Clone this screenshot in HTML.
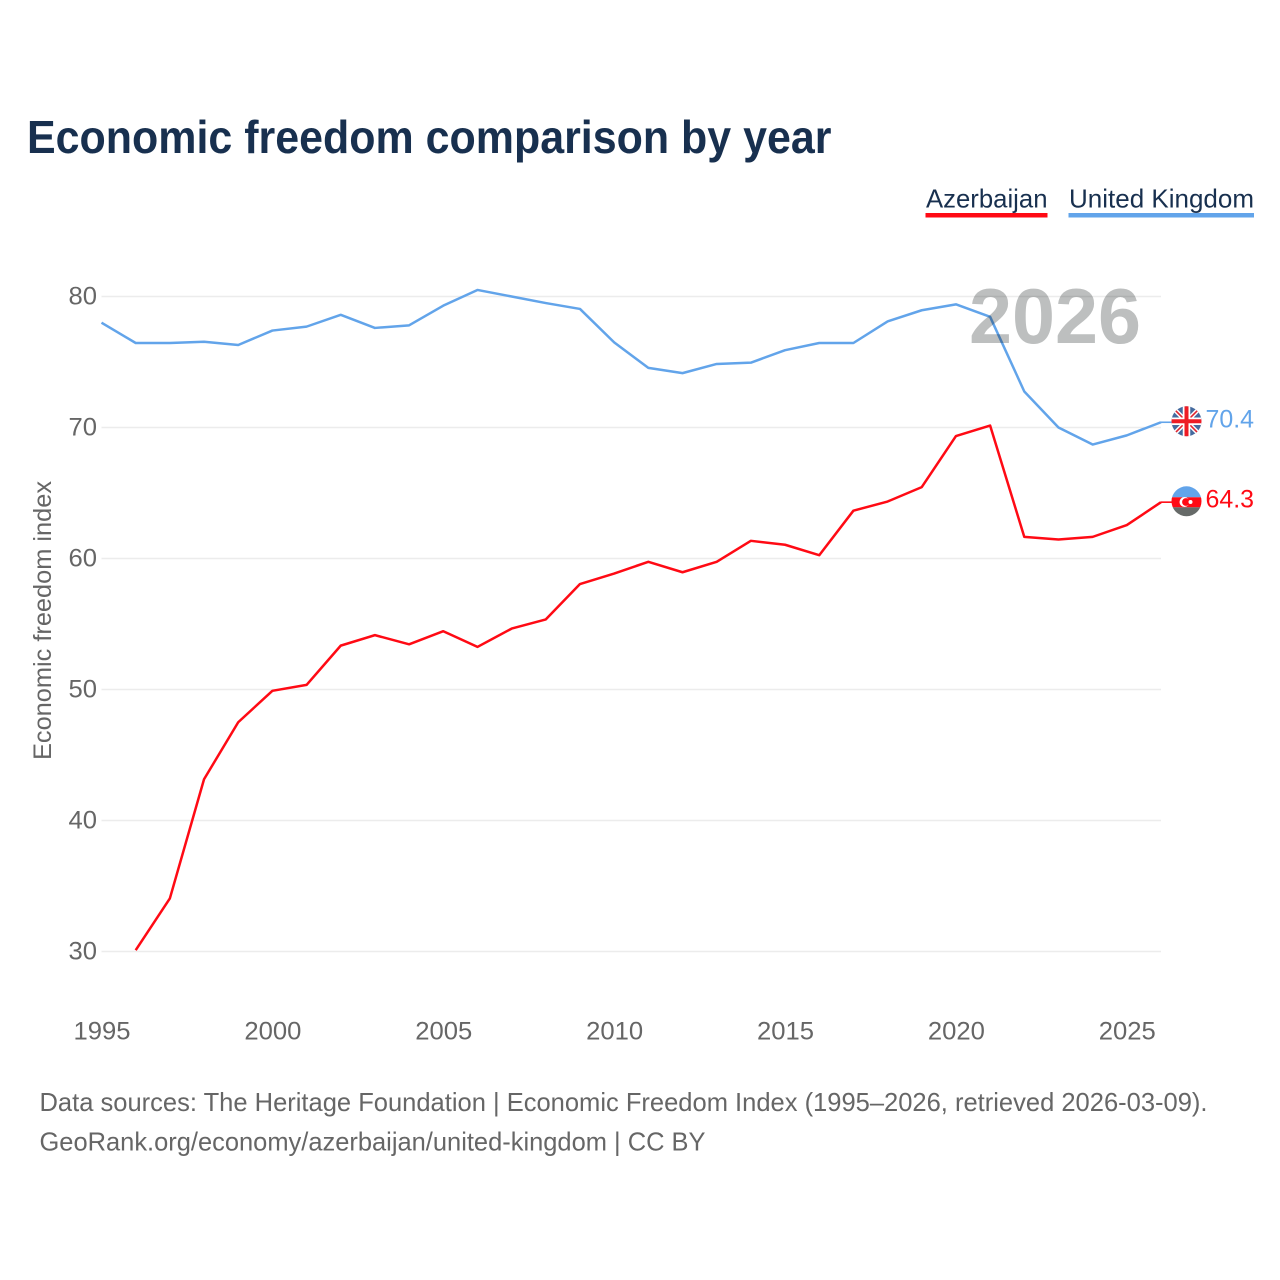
<!DOCTYPE html>
<html lang="en">
<head>
<meta charset="utf-8">
<title>Economic freedom comparison by year</title>
<style>
html,body{margin:0;padding:0;background:#fff;width:1280px;height:1280px;overflow:hidden}
svg{display:block;font-family:"Liberation Sans",sans-serif}
</style>
</head>
<body>
<svg id="chart" width="1280" height="1280" viewBox="0 0 1280 1280" xmlns="http://www.w3.org/2000/svg">
  <defs>
    <clipPath id="uk-clip"><circle cx="1186.5" cy="421.3" r="15"/></clipPath>
    <clipPath id="az-clip"><circle cx="1186.5" cy="501.3" r="15"/></clipPath>
  </defs>
  <rect width="1280" height="1280" fill="#fff"/>
  <text x="27" y="153" font-size="46" font-weight="700" fill="#18304f" textLength="804.5" lengthAdjust="spacingAndGlyphs">Economic freedom comparison by year</text>

  <g>
    <g>
      <text x="926" y="207.5" font-size="26" fill="#18304f" textLength="121.5" lengthAdjust="spacingAndGlyphs">Azerbaijan</text>
      <rect x="925.5" y="213" width="122" height="4.5" fill="#ff0a14"/>
    </g>
    <g>
      <text x="1069" y="207.5" font-size="26" fill="#18304f" textLength="185" lengthAdjust="spacingAndGlyphs">United Kingdom</text>
      <rect x="1068.5" y="213" width="185.5" height="4.5" fill="#62a4ea"/>
    </g>
  </g>

  <g id="grid"></g>
  <g id="yticks"></g>
  <g id="xticks"></g>
  <text transform="translate(51,620.5) rotate(-90)" text-anchor="middle" font-size="25" fill="#666" textLength="279" lengthAdjust="spacingAndGlyphs">Economic freedom index</text>

  <g id="series"></g>

  <text x="969" y="343" font-size="78" font-weight="700" fill="#bdbfbf" textLength="172" lengthAdjust="spacingAndGlyphs" style="mix-blend-mode:multiply">2026</text>

  <g clip-path="url(#uk-clip)">
    <rect x="1171" y="406" width="31" height="31" fill="#456a9e"/>
    <path d="M1171 406L1202 437M1202 406L1171 437" stroke="#fff" stroke-width="4.5"/>
    <path d="M1171 406L1202 437M1202 406L1171 437" stroke="#e0242f" stroke-width="1.6"/>
    <path d="M1186.5 406V437M1171 421.3H1202" stroke="#fff" stroke-width="7.5"/>
    <path d="M1186.5 406V437M1171 421.3H1202" stroke="#ee1c25" stroke-width="4"/>
  </g>
  <g clip-path="url(#az-clip)">
    <rect x="1171" y="486" width="31" height="11.3" fill="#62a4ea"/>
    <rect x="1171" y="497.3" width="31" height="10" fill="#ff0a14"/>
    <rect x="1171" y="507.3" width="31" height="10" fill="#666a68"/>
    <circle cx="1184.5" cy="502" r="5" fill="#fff"/>
    <circle cx="1186" cy="502" r="3.9" fill="#ff0a14"/>
    <circle cx="1190.5" cy="502" r="2" fill="#fff"/>
  </g>
  <text x="1205.5" y="427.5" font-size="25" fill="#62a4ea" textLength="48.5" lengthAdjust="spacingAndGlyphs">70.4</text>
  <text x="1205.5" y="507.5" font-size="25" fill="#ff0a14" textLength="48.5" lengthAdjust="spacingAndGlyphs">64.3</text>

  <text x="39.5" y="1111" font-size="26" fill="#666" textLength="1168" lengthAdjust="spacingAndGlyphs">Data sources: The Heritage Foundation | Economic Freedom Index (1995–2026, retrieved 2026-03-09).</text>
  <text x="39.5" y="1150.5" font-size="26" fill="#666" textLength="666" lengthAdjust="spacingAndGlyphs">GeoRank.org/economy/azerbaijan/united-kingdom | CC BY</text>
</svg>
<script>
const years = [1995,1996,1997,1998,1999,2000,2001,2002,2003,2004,2005,2006,2007,2008,2009,2010,2011,2012,2013,2014,2015,2016,2017,2018,2019,2020,2021,2022,2023,2024,2025,2026];
const unitedKingdom = [78.0,76.45,76.45,76.55,76.3,77.4,77.7,78.6,77.6,77.8,79.3,80.5,80.0,79.5,79.05,76.5,74.55,74.15,74.85,74.95,75.9,76.45,76.45,78.1,78.95,79.4,78.45,72.75,70.0,68.7,69.4,70.4];
const azerbaijan = [null,30.1,34.05,43.15,47.5,49.9,50.35,53.35,54.15,53.45,54.45,53.25,54.65,55.35,58.05,58.85,59.75,58.95,59.75,61.35,61.05,60.25,63.65,64.35,65.45,69.35,70.15,61.65,61.45,61.65,62.55,64.3];
const yTickValues = [30,40,50,60,70,80];
const xTickYears = [1995,2000,2005,2010,2015,2020,2025];

const NS = 'http://www.w3.org/2000/svg';
function xScale(year){ return 101.5 + (year - 1995) * (1161 - 101.5) / 31; }
function yScale(v){ return 951.5 - (v - 30) * (951.5 - 296.5) / 50; }
function make(tag, attrs, parent, text){
  const el = document.createElementNS(NS, tag);
  for (const k in attrs) el.setAttribute(k, attrs[k]);
  if (text !== undefined) el.textContent = text;
  parent.appendChild(el);
  return el;
}
const gridG = document.getElementById('grid');
const yG = document.getElementById('yticks');
const xG = document.getElementById('xticks');
const seriesG = document.getElementById('series');

yTickValues.forEach(function(v){
  const line = make('line', {x1:101.5, x2:1161, y1:yScale(v), y2:yScale(v), stroke:'#ececec', 'stroke-width':1.6}, gridG);
  
  
  const t = make('text', {x:97, y:yScale(v)+8, 'text-anchor':'end', 'font-size':25, fill:'#666', textLength:28.5, lengthAdjust:'spacingAndGlyphs'}, yG, String(v));
  
  
});
xTickYears.forEach(function(y){
  const t = make('text', {x:xScale(y)+0.5, y:1039.5, 'text-anchor':'middle', 'font-size':25, fill:'#666', textLength:57, lengthAdjust:'spacingAndGlyphs'}, xG, String(y));
  
  
});
function linePath(values){
  let d = '';
  values.forEach(function(v, i){
    if (v === null) return;
    d += (d ? 'L' : 'M') + xScale(years[i]).toFixed(2) + ' ' + yScale(v).toFixed(2);
  });
  return d;
}
function drawSeries(values, color, name){
  const p = make('path', {d:linePath(values), fill:'none', stroke:color, 'stroke-width':2.5, 'stroke-linejoin':'round'}, seriesG);
  
  
  const last = yScale(values[values.length - 1]);
  const c = make('line', {x1:xScale(2026), x2:1172, y1:last, y2:last, stroke:color, 'stroke-width':1.6}, seriesG);
  
  
}
drawSeries(unitedKingdom, '#62a4ea', 'united-kingdom');
drawSeries(azerbaijan, '#ff0a14', 'azerbaijan');
</script>
</body>
</html>
